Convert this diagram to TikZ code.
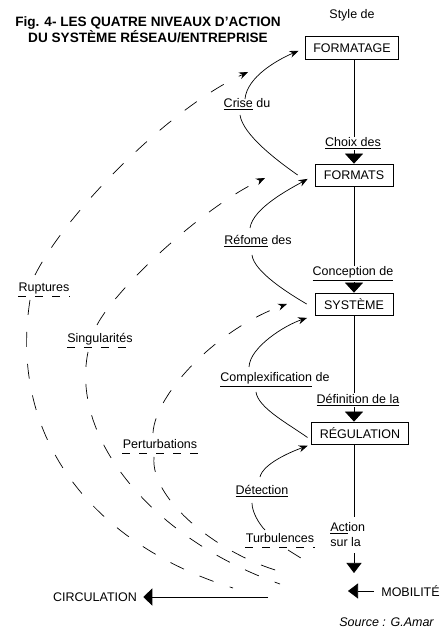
\documentclass[tikz,border=0pt]{standalone}
\usepackage{fontspec}
\setmainfont{Liberation Sans}
\usetikzlibrary{arrows.meta,positioning}

\begin{document}
\begin{tikzpicture}[x=1pt,y=1pt,line width=0.7pt,
    txt/.style={inner sep=1pt,font=\fontsize{12.5}{15}\selectfont},
    lbl/.style={txt,anchor=base},
    niveau/.style={txt,draw,inner xsep=8pt,minimum width=78pt,minimum height=22pt},
    fleche/.style={-{Triangle[width=18pt,length=10pt]}},
    boucle/.style={-{Stealth[length=9pt,width=7pt]}},
    tirets/.style={dash pattern=on 15pt off 17pt},
    souligne/.style={dash pattern=on 8pt off 9pt}]
  \useasboundingbox (0,0) rectangle (443,630);

  % Titre
  \node[txt,font=\fontsize{13.6}{16}\selectfont\bfseries,align=center] (titre) at (148,600)
    {Fig. 4- LES QUATRE NIVEAUX D'ACTION\\DU SYSTÈME RÉSEAU/ENTREPRISE};

  % Niveaux
  \node[lbl] (style) at (352,611) {Style de};
  \node[niveau,minimum height=23pt] (formatage) at (352,582) {FORMATAGE};
  \node[lbl] (choix) at (353,483) {\underline{Choix des}};
  \node[niveau] (formats) at (354,455) {FORMATS};
  \node[lbl] (concep) at (353,354) {\underline{Conception de}};
  \node[niveau] (systeme) at (354,326) {SYSTÈME};
  \node[lbl] (defin) at (358,226) {\underline{Définition de la}};
  \node[niveau] (regul) at (360,197) {RÉGULATION};
  \node[txt,inner ysep=6pt,align=left,anchor=west] (actsur) at (329,95) {\underline{Act}ion\\sur la};
  \coordinate (mob) at (354,57);
  \node[txt,inner xsep=7pt,anchor=west] (mobil) at (374,39) {MOBILITÉ};
  \coordinate (mobtip) at (348,39);
  \node[txt,inner xsep=6pt] (circul) at (95,33) {CIRCULATION};
  \coordinate (circ0) at (268,33);
  \node[lbl,anchor=base east,font=\fontsize{12.5}{15}\selectfont\itshape] (source) at (435,4) {Source : G.Amar};

  % Liaisons verticales
  \draw (formatage.south -| formats) -- (choix.north -| formats);
  \draw[fleche] (choix.south -| formats) -- (formats.north);
  \draw (formats.south) -- (concep.north -| formats);
  \draw[fleche] (concep.south -| formats) -- (systeme.north);
  \draw (systeme.south) -- (defin.north -| systeme);
  \draw[fleche] (defin.south -| systeme) -- (regul.north -| systeme);
  \draw (regul.south -| systeme) -- (actsur.north -| systeme);
  \draw[-{Triangle[width=15pt,length=10pt]}] (actsur.south -| systeme) -- (mob);
  \draw[-{Triangle[width=15pt,length=10pt]}] (mobil.west) -- (mobtip);
  \draw[-{Triangle[width=17pt,length=9pt]}] (circ0) -- (circul.east);

  % Actions
  \node[lbl] (crise) at (247,522) {\underline{Crise} du};
  \node[lbl] (refome) at (258,385) {\underline{Réfome} des};
  \node[lbl] (complex) at (275,248) {\underline{Complexification} de};
  \node[lbl] (detect) at (262,135) {\underline{Détection}};
  \node[lbl] (turb) at (280,87) {Turbulences};

  \draw ([xshift=-17pt]formats.west) .. controls +(-20,14) and +(3,-20) .. ([shift={(-7,-7)}]crise.base);
  \draw[boucle,shorten >=7pt] ([shift={(-2,9)}]crise.base) .. controls +(2,22) and +(-28,-12) .. (formatage.west);
  \draw ([xshift=-8pt]systeme.west) .. controls +(-17,10) and +(2,-17) .. ([shift={(-6,-10)}]refome.base);
  \draw[boucle,shorten >=8pt] ([shift={(-8,17)}]refome.base) .. controls +(3,20) and +(-25,-14) .. (formats.west);
  \draw ([shift={(-4,-4.5)}]regul.west) .. controls +(-18,13) and +(2,-16) .. ([shift={(-19,-10)}]complex.base);
  \draw[boucle,shorten >=8pt] ([shift={(-26,15)}]complex.base) .. controls +(1,20) and +(-30,-10) .. (systeme.south west);
  \draw ([shift={(-15,13)}]turb.base) .. controls +(-6,6) and +(0,-9) .. ([shift={(-10,-8)}]detect.base);
  \draw[boucle,shorten >=4pt] ([shift={(-2,18)}]detect.base) .. controls +(3,13) and +(-22,-8) .. (regul.south west);

  % Perturbations (tirets)
  \node[lbl] (rupt) at (44,338) {Ruptures};
  \node[lbl] (singul) at (100,287) {Singularités};
  \node[lbl] (perturb) at (160,181) {Perturbations};
  \coordinate (r0) at (233,42);
  \coordinate (r1) at (248,558);
  \coordinate (s0) at (280,46);
  \coordinate (s1) at (265,452);
  \coordinate (p0) at (282,58);
  \coordinate (p1) at (287,326);
  \coordinate (t0) at (312,65);

  \draw[tirets] ([shift={(-14,-8)}]rupt.base) .. controls +(-22,-140) and +(-138,43) .. (r0);
  \draw[tirets,boucle] ([shift={(-9,17)}]rupt.base) .. controls +(30,60) and +(-82,-38) .. (r1);
  \draw[tirets] ([shift={(-12,-9)}]singul.base) .. controls +(-18,-88) and +(-125,44) .. (s0);
  \draw[tirets,boucle] ([shift={(-3,18)}]singul.base) .. controls +(18,35) and +(-65,-31) .. (s1);
  \draw[tirets] ([shift={(-6,-8)}]perturb.base) .. controls +(-4,-43) and +(-62,17) .. (p0);
  \draw[tirets,boucle] ([shift={(-7,16)}]perturb.base) .. controls +(2,38) and +(-72,-26) .. (p1);
  \draw[tirets] ([shift={(8,-7)}]turb.base) -- (t0);

  % Soulignes en tirets
  \foreach \n in {rupt,singul,perturb,turb}
    \draw[souligne] ([shift={(1pt,-4pt)}]\n.base west) -- ([shift={(-1pt,-4pt)}]\n.base east);
\end{tikzpicture}
\end{document}
